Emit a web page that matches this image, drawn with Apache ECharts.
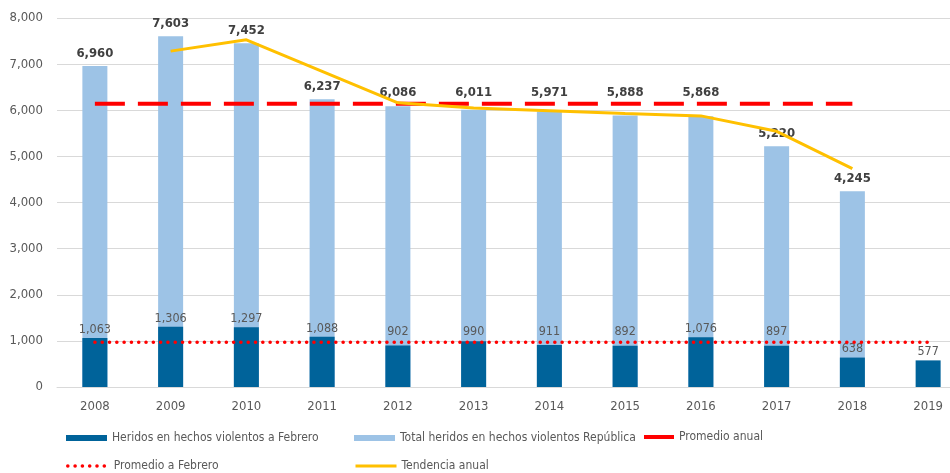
<!DOCTYPE html>
<html>
<head>
<meta charset="utf-8">
<script src="https://cdn.jsdelivr.net/npm/echarts@6/dist/echarts.min.js"></script>
<style>
  html, body { margin: 0; padding: 0; background: #fff; }
  #chart { width: 950px; height: 473px; }
</style>
</head>
<body>
<div id="chart"></div>
<script>
const years = ['2008', '2009', '2010', '2011', '2012', '2013', '2014', '2015', '2016', '2017', '2018', '2019'];
const totalRepublica = [6960, 7603, 7452, 6237, 6086, 6011, 5971, 5888, 5868, 5220, 4245, null];
const heridosFebrero = [1063, 1306, 1297, 1088, 902, 990, 911, 892, 1076, 897, 638, 577];
const promedioAnual = [6140, 6140, 6140, 6140, 6140, 6140, 6140, 6140, 6140, 6140, 6140, null];
const promedioFebrero = [970, 970, 970, 970, 970, 970, 970, 970, 970, 970, 970, 970];
const tendenciaAnual = [null, 7282, 7528, 6845, 6162, 6049, 5991, 5930, 5878, 5544, 4733, null];

const font = '"Liberation Sans Narrow", "DejaVu Sans Condensed", "Liberation Sans", sans-serif';
const grey = '#595959';

const gridTop = 18, gridBottom = 86, yMax = 8000;
const chart = echarts.init(document.getElementById('chart'));
const plotH = 473 - gridTop - gridBottom;
const yPix = v => gridTop + plotH * (1 - v / yMax);

// lift a label above a horizontal average line when it would sit on it
// (slack: how far below the line the label centre may be and still be lifted)
const liftAbove = (lineValue, gap, slack) => p => {
  const lineY = yPix(lineValue);
  const r = p.labelRect;
  const bottom = r.y + r.height;
  if (r.y + r.height / 2 < lineY + slack && bottom > lineY - gap) {
    return { dy: (lineY - gap) - bottom };
  }
  return {};
};

const legendText = { color: grey, fontSize: 12, fontFamily: font };
// one legend per entry so the 3-column grid of the original can be placed
const legendAt = (name, left, top, w, isBar) => {
  const lg = {
    left: left, top: top, padding: 0, itemWidth: w, itemHeight: 8, itemGap: 0,
    textStyle: legendText, data: [name]
  };
  if (isBar) {
    lg.icon = 'rect';
    lg.itemHeight = 6;
  } else {
    lg.itemStyle = { opacity: 0 };   // hide the symbol, keep the line
    lg.lineStyle = { width: 'inherit' };
  }
  return lg;
};

chart.setOption({
  animation: false,
  textStyle: { fontFamily: font },
  grid: { left: 57, right: -16, top: gridTop, bottom: gridBottom, outerBoundsMode: 'none' },
  legend: [
    legendAt('Heridos en hechos violentos a Febrero', 66, 432, 41, true),
    legendAt('Total heridos en hechos violentos República', 354, 432, 41, true),
    legendAt('Promedio anual', 642, 431, 30, false),
    legendAt('Promedio a Febrero', 66, 460, 41, false),
    legendAt('Tendencia anual', 354, 460, 41, false)
  ],
  xAxis: {
    type: 'category',
    data: years,
    axisLine: { lineStyle: { color: '#D9D9D9' } },
    axisTick: { show: false },
    axisLabel: { color: grey, fontSize: 13, margin: 13, fontFamily: font }
  },
  yAxis: {
    type: 'value',
    min: 0, max: yMax, interval: 1000,
    axisLine: { show: false },
    axisTick: { show: false },
    splitLine: { lineStyle: { color: '#D9D9D9' } },
    axisLabel: {
      color: grey, fontSize: 13, margin: 14, fontFamily: font,
      formatter: v => v.toLocaleString('en-US')
    }
  },
  series: [
    {
      name: 'Total heridos en hechos violentos República',
      type: 'bar',
      data: totalRepublica,
      barWidth: 25,
      itemStyle: { color: '#9DC3E6' },
      label: {
        show: true, position: 'top', distance: 6,
        color: '#404040', fontSize: 13, fontWeight: 'bold', fontFamily: font,
        formatter: p => p.value.toLocaleString('en-US')
      },
      labelLayout: liftAbove(promedioAnual[0], 5, 12),
      z: 2
    },
    {
      name: 'Heridos en hechos violentos a Febrero',
      type: 'bar',
      data: heridosFebrero,
      barWidth: 25,
      barGap: '-100%',
      itemStyle: { color: '#00639A' },
      label: {
        show: true, position: 'top', distance: 2,
        color: grey, fontSize: 12.5, fontFamily: font,
        formatter: p => p.value.toLocaleString('en-US')
      },
      labelLayout: liftAbove(promedioFebrero[0], 4, 0),
      z: 3
    },
    {
      name: 'Promedio anual',
      type: 'line',
      data: promedioAnual,
      symbol: 'none',
      lineStyle: { color: '#FF0000', width: 4, type: [30, 13] },
      itemStyle: { color: '#FF0000' },
      z: 5
    },
    {
      name: 'Promedio a Febrero',
      type: 'line',
      data: promedioFebrero,
      symbol: 'none',
      lineStyle: { color: '#FF0000', width: 3.5, type: [0.1, 7.2], cap: 'round' },
      itemStyle: { color: '#FF0000' },
      z: 5
    },
    {
      name: 'Tendencia anual',
      type: 'line',
      data: tendenciaAnual,
      symbol: 'none',
      lineStyle: { color: '#FFC000', width: 3 },
      itemStyle: { color: '#FFC000' },
      z: 6
    }
  ]
});
</script>
</body>
</html>
